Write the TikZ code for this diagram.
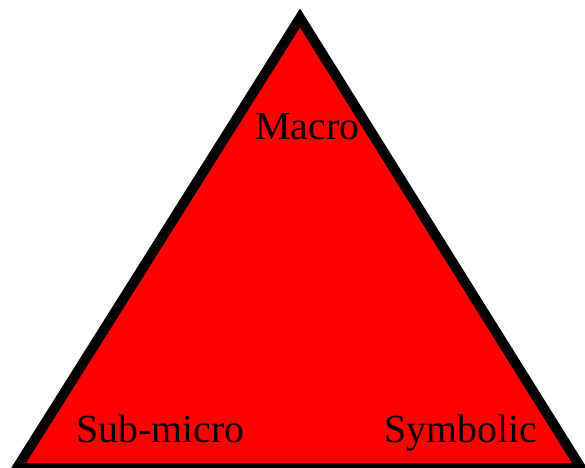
\documentclass[tikz,border=0pt]{standalone}
\usepackage{fontspec}
\setmainfont{Liberation Serif}
\definecolor{pyrred}{RGB}{255,0,0}
\usetikzlibrary{positioning}
\tikzset{
  corner/.style={anchor=base,font=\fontsize{34}{40}\selectfont},
  pyramid/.style={fill=pyrred,draw=black,line width=0.3cm,line join=miter}
}

\begin{document}
\begin{tikzpicture}[x=0.03cm,y=-0.03cm]
  \useasboundingbox (0,0) rectangle (585,467);
  \clip (0,0) rectangle (585,467);
  \coordinate (apex) at (300,18);
  \coordinate (left) at (17,468);
  \coordinate (right) at (581,468);
  \filldraw[pyramid] (apex) -- (left) -- (right) -- cycle;
  \node[corner] (macro) at (307.5,139) {Macro};
  \node[corner] (submicro) at (160.5,442) {Sub-micro};
  \node[corner] (symbolic) at (461,442) {Symbolic};
\end{tikzpicture}
\end{document}
